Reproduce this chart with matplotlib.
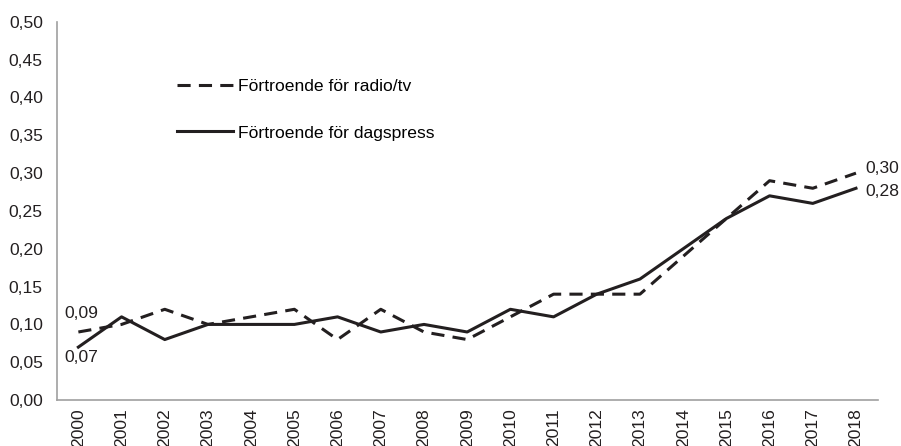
import matplotlib.pyplot as plt
from matplotlib.ticker import FuncFormatter

years = list(range(2000, 2019))
radio_tv = [0.09, 0.10, 0.12, 0.10, 0.11, 0.12, 0.08, 0.12, 0.09, 0.08,
            0.11, 0.14, 0.14, 0.14, 0.19, 0.24, 0.29, 0.28, 0.30]
dagspress = [0.07, 0.11, 0.08, 0.10, 0.10, 0.10, 0.11, 0.09, 0.10, 0.09,
             0.12, 0.11, 0.14, 0.16, 0.20, 0.24, 0.27, 0.26, 0.28]
labels = ["Förtroende för radio/tv", "Förtroende för dagspress"]

plt.rcParams["font.family"] = ["Liberation Sans", "DejaVu Sans"]
plt.rcParams["font.size"] = 12.6

ink = "#231f20"
fig = plt.figure(figsize=(9.01, 4.46), dpi=100)
ax = fig.add_axes([0.063, 0.103, 0.911, 0.848])

x = list(range(len(years)))
ax.plot(x, radio_tv, color=ink, lw=2.2, dashes=(4.3, 2.7), label=labels[0])
ax.plot(x, dagspress, color=ink, lw=2.2, label=labels[1])

def comma(v):
    return f"{v:.2f}".replace(".", ",")

# value labels at the start and end of each line
ax.annotate(comma(radio_tv[0]), (x[0], radio_tv[0]), xytext=(-10, 8),
            textcoords="offset points", ha="left", va="bottom", color=ink)
ax.annotate(comma(dagspress[0]), (x[0], dagspress[0]), xytext=(-10, -2),
            textcoords="offset points", ha="left", va="top", color=ink)
ax.annotate(comma(radio_tv[-1]), (x[-1], radio_tv[-1]), xytext=(7, 3),
            textcoords="offset points", ha="left", va="center", color=ink)
ax.annotate(comma(dagspress[-1]), (x[-1], dagspress[-1]), xytext=(7, -2),
            textcoords="offset points", ha="left", va="center", color=ink)

ax.set_xlim(-0.5, len(years) - 0.5)
ax.set_ylim(0, 0.5)
ax.set_yticks([i * 0.05 for i in range(11)])
ax.yaxis.set_major_formatter(FuncFormatter(lambda v, p: comma(v)))
ax.set_xticks(x)
ax.set_xticklabels([str(y) for y in years], rotation=90)
ax.tick_params(length=0, colors=ink)
ax.tick_params(axis="x", pad=6)
ax.tick_params(axis="y", pad=10)

for side in ["top", "right"]:
    ax.spines[side].set_visible(False)
for side in ["left", "bottom"]:
    ax.spines[side].set_color("#a0a0a0")
    ax.spines[side].set_linewidth(1.2)

ax.legend(loc="upper left", bbox_to_anchor=(0.146, 0.85), frameon=False,
          borderaxespad=0, borderpad=0,
          handlelength=3.2, handletextpad=0.3, labelspacing=1.8)

fig.savefig("out.png", dpi=100)
